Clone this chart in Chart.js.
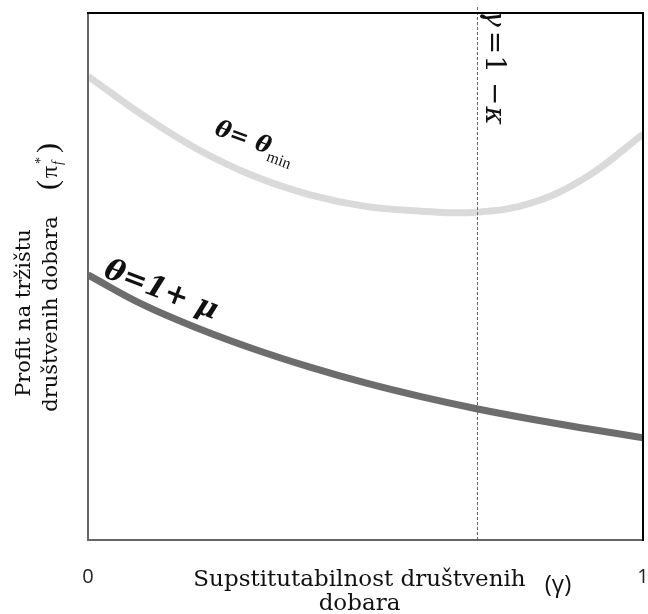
<!DOCTYPE html>
<html>
<head>
<meta charset="utf-8">
<script src="https://cdn.jsdelivr.net/npm/chart.js@4.4.1/dist/chart.umd.min.js"></script>
<style>
  html, body { margin: 0; padding: 0; background: #fff; }
  #wrap { width: 648px; height: 614px; }
</style>
</head>
<body>
<div id="wrap"><canvas id="grafico" width="648" height="614"></canvas></div>
<script>
// ===============================
// Data
// ===============================
const gammaVals = [0, 0.1, 0.2, 0.3, 0.4, 0.5, 0.6, 0.7, 0.8, 0.9, 1.0];
const profitThetaMin = [0.88, 0.805, 0.74, 0.69, 0.655, 0.633, 0.624, 0.622, 0.64, 0.69, 0.77];
const profitThetaMu = [0.503, 0.446, 0.401, 0.362, 0.328, 0.298, 0.272, 0.249, 0.229, 0.211, 0.194];
const gammaThreshold = 0.7; // γ = 1 − κ
const xTickVals = [0, 1];
const xTickLabels = ['0', '1'];

const SERIF = '"DejaVu Serif", "Liberation Serif", serif';
const TIMES = '"Liberation Serif", "DejaVu Serif", serif';
const SANS = '"Open Sans", "Liberation Sans", sans-serif';

function toPoints(xs, ys) {
  return xs.map((x, i) => ({ x: x, y: ys[i] }));
}

// draws text pieces one after the other along a rotated baseline
function drawRun(ctx, x, y, angleDeg, parts) {
  ctx.save();
  ctx.translate(x, y);
  ctx.rotate(angleDeg * Math.PI / 180);
  ctx.textAlign = 'left';
  ctx.textBaseline = 'alphabetic';
  let cx = 0;
  parts.forEach(p => {
    ctx.font = p.font;
    ctx.fillStyle = p.color || '#111';
    ctx.fillText(p.text, cx + (p.dx || 0), p.dy || 0);
    if (p.advance !== false) cx += ctx.measureText(p.text).width + (p.dx || 0);
  });
  ctx.restore();
}

function drawCentered(ctx, text, x, y, angleDeg, font, color) {
  ctx.save();
  ctx.translate(x, y);
  ctx.rotate(angleDeg * Math.PI / 180);
  ctx.font = font;
  ctx.fillStyle = color || '#111';
  ctx.textAlign = 'center';
  ctx.textBaseline = 'middle';
  ctx.fillText(text, 0, 0);
  ctx.restore();
}

const decoracao = {
  id: 'decoracao',
  afterDraw(chart) {
    const ctx = chart.ctx;
    const area = chart.chartArea;
    const sx = chart.scales.x, sy = chart.scales.y;

    // dashed line γ = 1 − κ
    const xd = Math.round(sx.getPixelForValue(gammaThreshold)) + 0.5;
    ctx.save();
    ctx.strokeStyle = '#666';
    ctx.lineWidth = 1;
    ctx.setLineDash([3, 2]);
    ctx.beginPath();
    ctx.moveTo(xd, area.top - 6);
    ctx.lineTo(xd, area.bottom);
    ctx.stroke();
    ctx.restore();

    // frame
    ctx.save();
    ctx.lineWidth = 2;
    ctx.strokeStyle = '#666';
    ctx.beginPath();
    ctx.moveTo(area.left, area.top);
    ctx.lineTo(area.left, area.bottom);
    ctx.lineTo(area.right, area.bottom);
    ctx.stroke();
    ctx.strokeStyle = '#000';
    ctx.beginPath();
    ctx.moveTo(area.left - 1, area.top);
    ctx.lineTo(area.right, area.top);
    ctx.lineTo(area.right, area.bottom + 1);
    ctx.stroke();
    ctx.restore();

    // γ = 1 − κ label, clipped by the frame
    ctx.save();
    ctx.beginPath();
    ctx.rect(area.left, area.top + 1, area.right - area.left, area.bottom - area.top);
    ctx.clip();
    drawRun(ctx, xd + 8, area.top - 3, 90, [
      { text: 'γ', font: 'italic 28px ' + SERIF },
      { text: '=', font: '28px ' + SERIF, dx: 4 },
      { text: '1', font: '28px ' + SERIF, dx: 1 },
      { text: '−', font: '28px ' + SERIF, dx: 9 },
      { text: 'κ', font: 'italic 28px ' + SERIF, dx: 1 }
    ]);
    ctx.restore();

    // curve labels
    drawRun(ctx, sx.getPixelForValue(0.226), sy.getPixelForValue(0.77), 20, [
      { text: 'θ= θ', font: 'bold italic 23px ' + SERIF },
      { text: 'min', font: '16px ' + TIMES, dy: 7 }
    ]);
    drawRun(ctx, sx.getPixelForValue(0.026), sy.getPixelForValue(0.5), 21, [
      { text: 'θ=1+ μ', font: 'bold italic 29px ' + SERIF }
    ]);

    // x ticks
    ctx.save();
    ctx.font = '20px ' + SANS;
    ctx.fillStyle = '#222';
    ctx.textAlign = 'center';
    ctx.textBaseline = 'middle';
    xTickVals.forEach((v, i) => {
      ctx.fillText(xTickLabels[i], sx.getPixelForValue(v), area.bottom + 37);
    });
    ctx.restore();

    // x title
    const xc = (area.left + area.right) / 2;
    drawCentered(ctx, 'Supstitutabilnost društvenih', xc - 6, area.bottom + 40, 0, '23px ' + SERIF);
    drawCentered(ctx, 'dobara', xc - 6, area.bottom + 64, 0, '23px ' + SERIF);
    drawCentered(ctx, '(γ)', area.left + 470, area.bottom + 45, 0, '24px ' + SANS);

    // y title
    drawCentered(ctx, 'Profit na tržištu', 25, 313, -90, '21px ' + SERIF);
    drawCentered(ctx, 'društvenih dobara', 52, 314, -90, '21px ' + SERIF);
    drawRun(ctx, 57, 190, -90, [
      { text: '(', font: '30px ' + TIMES },
      { text: 'π', font: '24px ' + TIMES, dx: 2 },
      { text: 'f', font: 'italic 14px ' + TIMES, dy: 5, dx: 1, advance: false },
      { text: '*', font: '14px ' + TIMES, dy: -12, dx: 2 },
      { text: ')', font: '30px ' + TIMES, dx: 4 }
    ]);
  }
};

function gerarGrafico() {
  const ctx = document.getElementById('grafico').getContext('2d');
  new Chart(ctx, {
    type: 'line',
    data: {
      datasets: [
        {
          label: 'θ = θmin',
          data: toPoints(gammaVals, profitThetaMin),
          borderColor: '#dadada',
          borderWidth: 7,
          pointRadius: 0,
          tension: 0.4,
          fill: false
        },
        {
          label: 'θ = 1 + μ',
          data: toPoints(gammaVals, profitThetaMu),
          borderColor: '#6d6d6d',
          borderWidth: 7,
          pointRadius: 0,
          tension: 0.4,
          fill: false
        }
      ]
    },
    options: {
      responsive: false,
      animation: false,
      layout: { padding: { left: 88, right: 5, top: 13, bottom: 74 } },
      scales: {
        x: { type: 'linear', min: 0, max: 1, display: false },
        y: { type: 'linear', min: 0, max: 1, display: false }
      },
      plugins: {
        legend: { display: false },
        tooltip: { enabled: false }
      }
    },
    plugins: [decoracao]
  });
}

window.addEventListener('DOMContentLoaded', gerarGrafico);
</script>
</body>
</html>
